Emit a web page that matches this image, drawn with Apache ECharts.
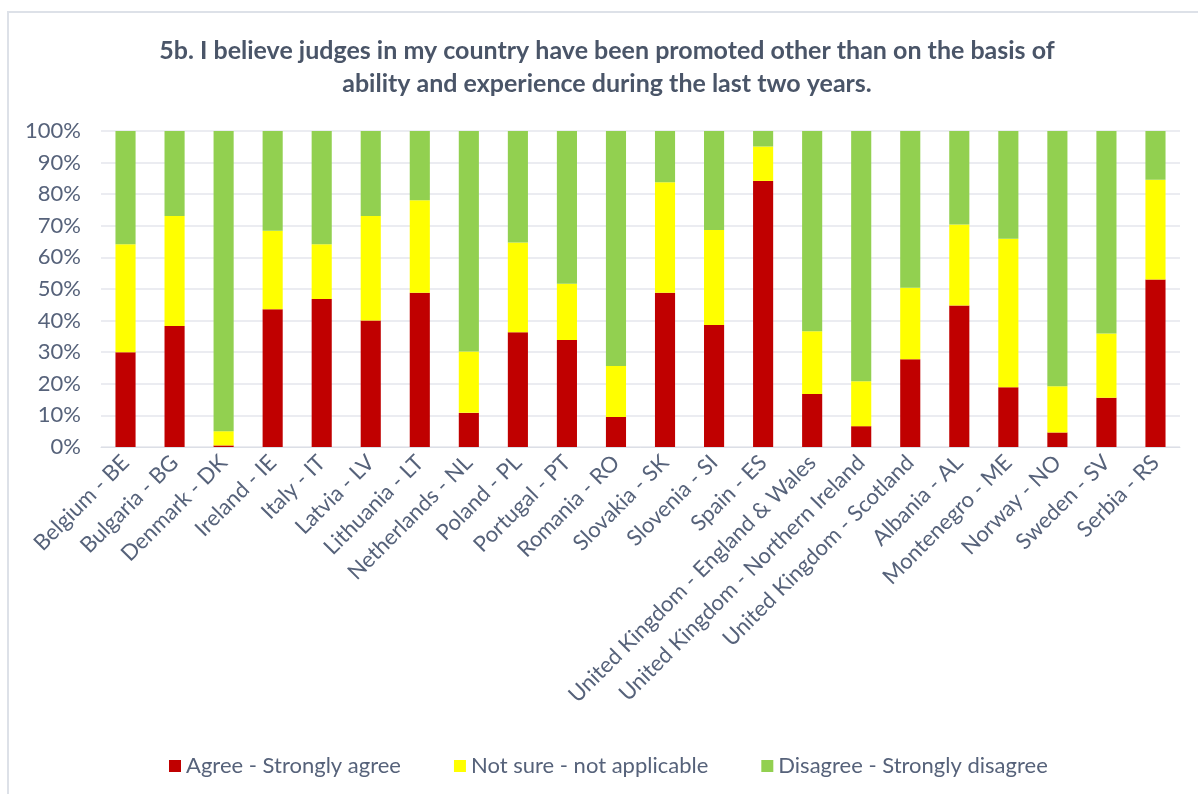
<!DOCTYPE html>
<html>
<head>
<meta charset="utf-8">
<script src="https://cdn.jsdelivr.net/npm/echarts@6/dist/echarts.min.js"></script>
<style>
html,body{margin:0;padding:0;background:#fff;}
#chart{width:1198px;height:794px;}
</style>
</head>
<body>
<div id="chart"></div>
<script>
const categories = ["Belgium - BE","Bulgaria - BG","Denmark - DK","Ireland - IE","Italy - IT","Latvia - LV","Lithuania - LT","Netherlands - NL","Poland - PL","Portugal - PT","Romania - RO","Slovakia - SK","Slovenia - SI","Spain - ES","United Kingdom - England & Wales","United Kingdom - Northern Ireland","United Kingdom - Scotland","Albania - AL","Montenegro - ME","Norway - NO","Sweden - SV","Serbia - RS"];
const agree    = [30, 38.3, 0.5, 43.6, 46.8, 40, 48.8, 10.8, 36.3, 33.9, 9.5, 48.8, 38.6, 84.2, 16.8, 6.6, 27.8, 44.8, 18.9, 4.6, 15.6, 53];
const notSure  = [34.2, 34.8, 4.5, 24.8, 17.4, 33.1, 29.3, 19.4, 28.4, 17.8, 16.1, 35, 30.1, 10.9, 19.8, 14.2, 22.6, 25.6, 47, 14.6, 20.3, 31.6];
const disagree = [35.8, 26.9, 95, 31.6, 35.8, 26.9, 21.9, 69.8, 35.3, 48.3, 74.4, 16.2, 31.3, 4.9, 63.4, 79.2, 49.6, 29.6, 34.1, 80.8, 64.1, 15.4];
const seriesNames = ["Agree - Strongly agree","Not sure - not applicable","Disagree - Strongly disagree"];
const titleText = "5b. I believe judges in my country have been promoted other than on the basis of\nability and experience during the last two years.";

const textColor = "#56627a";
const font = "Lato, 'Open Sans', sans-serif";
const chart = echarts.init(document.getElementById('chart'));
const mk = (name, data, color) => ({
  name, type: 'bar', stack: 'all', data, barWidth: '41%',
  itemStyle: { color }, emphasis: { disabled: true }
});
chart.setOption({
  animation: false,
  graphic: [{
    type: 'rect', shape: { x: 8, y: 12, width: 1250, height: 900 },
    style: { fill: 'none', stroke: '#dde1e8', lineWidth: 2 }, silent: true, z: -1
  }, {
    type: 'text', x: 607, y: 34, silent: true,
    style: {
      text: titleText, align: 'center', verticalAlign: 'top',
      font: "bold 25px Lato, 'Open Sans', sans-serif", lineHeight: 33, fill: '#4a5568'
    }
  }],
  legend: {
    bottom: 12, left: 164, itemGap: 53, itemWidth: 12, itemHeight: 12, icon: 'rect',
    textStyle: { fontFamily: font, fontSize: 22, color: textColor },
    data: seriesNames
  },
  grid: { left: 101, right: 18, top: 131, bottom: 347, containLabel: false },
  xAxis: {
    type: 'category', data: categories,
    axisLine: { lineStyle: { color: '#dcdfe6' } },
    axisTick: { show: false },
    axisLabel: { rotate: 45, interval: 0, fontFamily: font, fontSize: 22, color: textColor, margin: 12 }
  },
  yAxis: {
    type: 'value', min: 0, max: 100, interval: 10,
    axisLabel: { formatter: '{value}%', fontFamily: font, fontSize: 22, color: textColor, margin: 20 },
    splitLine: { lineStyle: { color: '#e4e6ec', width: 1.5 } },
    axisLine: { show: false }, axisTick: { show: false }
  },
  series: [
    mk(seriesNames[0], agree, '#C00000'),
    mk(seriesNames[1], notSure, '#FFFF00'),
    mk(seriesNames[2], disagree, '#92D050')
  ]
});
</script>
</body>
</html>
